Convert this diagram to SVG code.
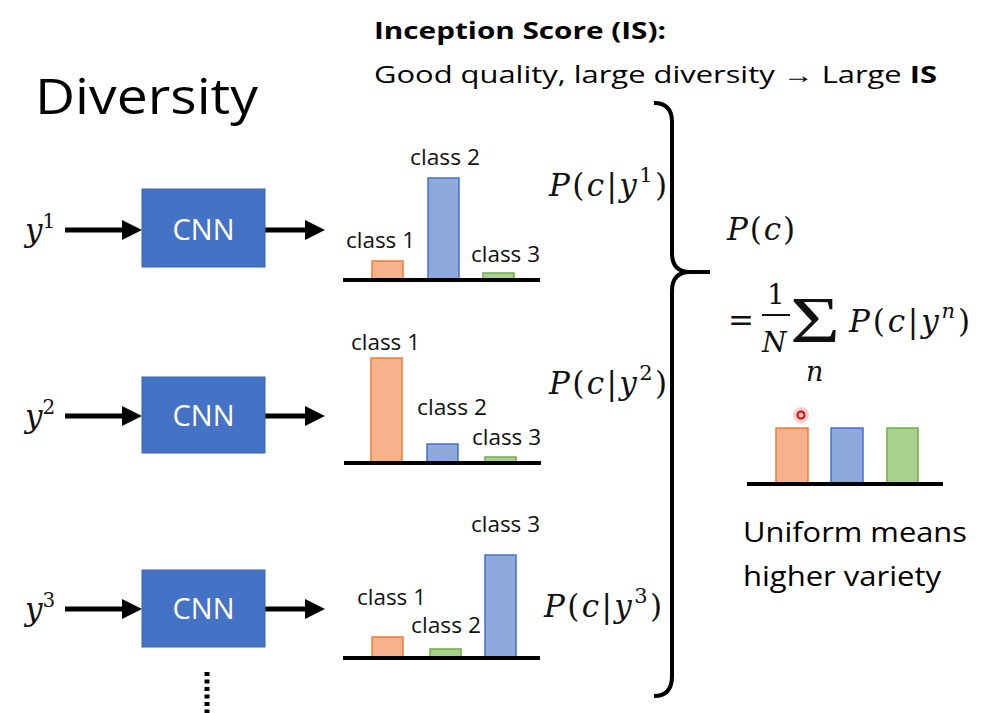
<svg xmlns="http://www.w3.org/2000/svg" width="989" height="713" viewBox="0 0 989 713">
<defs>
<style>
.sans{font-family:"Open Sans","Noto Sans","Liberation Sans",sans-serif;fill:#000}
.lbl{font-family:"Open Sans","Noto Sans","Liberation Sans",sans-serif;font-size:21px;fill:#111}
.cnn{fill:#4472C4;stroke:#3A64AE;stroke-width:1}
.cnnt{font-family:"Open Sans","Noto Sans","Liberation Sans",sans-serif;font-size:29px;fill:#fff;text-anchor:middle}
.math{font-family:"DejaVu Serif","Liberation Serif",serif;fill:#111}
.m31{font-size:31px}
.m28{font-size:28px}
.it{font-style:italic}
.base{stroke:#000;stroke-width:4}
.o{fill:#F6B28D;stroke:#ED7D31;stroke-width:1.5}
.b{fill:#8EA9DB;stroke:#4472C4;stroke-width:1.5}
.g{fill:#A9D18E;stroke:#70AD47;stroke-width:1.5}
.arr{stroke:#000;stroke-width:5;fill:none}
</style>
<marker id="ah" markerWidth="4" markerHeight="4" refX="0" refY="2" orient="auto" markerUnits="strokeWidth" viewBox="0 0 4 4">
<path d="M0,0 L4,2 L0,4 Z" fill="#000"/>
</marker>
</defs>
<rect width="989" height="713" fill="#fff"/>

<text class="sans" x="35" y="114" font-size="50" textLength="223" lengthAdjust="spacingAndGlyphs">Diversity</text>
<text class="sans" x="374" y="39" font-size="24" font-weight="bold" textLength="292" lengthAdjust="spacingAndGlyphs">Inception Score (IS):</text>
<text class="sans" x="374" y="83" font-size="24" textLength="563" lengthAdjust="spacingAndGlyphs">Good quality, large diversity → Large <tspan font-weight="bold">IS</tspan></text>

<g id="connectors">
<line class="arr" x1="65" y1="230" x2="122" y2="230" marker-end="url(#ah)"/>
<line class="arr" x1="265" y1="230" x2="305" y2="230" marker-end="url(#ah)"/>
<line class="arr" x1="65" y1="416" x2="122" y2="416" marker-end="url(#ah)"/>
<line class="arr" x1="265" y1="416" x2="305" y2="416" marker-end="url(#ah)"/>
<line class="arr" x1="65" y1="609" x2="122" y2="609" marker-end="url(#ah)"/>
<line class="arr" x1="265" y1="609" x2="305" y2="609" marker-end="url(#ah)"/>
<line x1="207" y1="672" x2="207" y2="713" stroke="#000" stroke-width="5" stroke-dasharray="4,3.5"/>
</g>

<g id="y1"><text class="math m31" x="25" y="241"><tspan class="it">y</tspan><tspan dy="-13" font-size="20">1</tspan></text></g>
<g id="y2"><text class="math m31" x="25" y="427"><tspan class="it">y</tspan><tspan dy="-13" font-size="20">2</tspan></text></g>
<g id="y3"><text class="math m31" x="25" y="620"><tspan class="it">y</tspan><tspan dy="-13" font-size="20">3</tspan></text></g>

<g id="cnn1"><rect class="cnn" x="142" y="189" width="123" height="78"/><text class="cnnt" x="203.5" y="240">CNN</text></g>
<g id="cnn2"><rect class="cnn" x="142" y="377" width="123" height="76"/><text class="cnnt" x="203.5" y="426">CNN</text></g>
<g id="cnn3"><rect class="cnn" x="142" y="570" width="123" height="77"/><text class="cnnt" x="203.5" y="619">CNN</text></g>

<g id="chart1">
<rect class="o" x="372" y="261" width="31" height="19"/>
<rect class="b" x="428" y="178" width="31" height="102"/>
<rect class="g" x="483" y="273" width="31" height="7"/>
<line class="base" x1="343" y1="280" x2="540" y2="280"/>
<text class="lbl" x="346" y="248" textLength="69" lengthAdjust="spacingAndGlyphs">class 1</text>
<text class="lbl" x="410" y="165" textLength="70" lengthAdjust="spacingAndGlyphs">class 2</text>
<text class="lbl" x="471" y="262" textLength="69" lengthAdjust="spacingAndGlyphs">class 3</text>
</g>
<g id="chart2">
<rect class="o" x="371" y="358" width="31" height="105"/>
<rect class="b" x="427" y="444" width="31" height="19"/>
<rect class="g" x="485" y="457" width="31" height="6"/>
<line class="base" x1="344" y1="463" x2="541" y2="463"/>
<text class="lbl" x="351" y="350" textLength="69" lengthAdjust="spacingAndGlyphs">class 1</text>
<text class="lbl" x="417" y="415" textLength="70" lengthAdjust="spacingAndGlyphs">class 2</text>
<text class="lbl" x="472" y="445" textLength="69" lengthAdjust="spacingAndGlyphs">class 3</text>
</g>
<g id="chart3">
<rect class="o" x="372" y="637" width="31" height="21"/>
<rect class="g" x="430" y="649" width="31" height="9"/>
<rect class="b" x="485" y="555" width="31" height="103"/>
<line class="base" x1="343" y1="658" x2="540" y2="658"/>
<text class="lbl" x="357" y="605" textLength="69" lengthAdjust="spacingAndGlyphs">class 1</text>
<text class="lbl" x="411" y="633" textLength="70" lengthAdjust="spacingAndGlyphs">class 2</text>
<text class="lbl" x="471" y="532" textLength="69" lengthAdjust="spacingAndGlyphs">class 3</text>
</g>

<g id="p1"><text class="math m31" x="549" y="196" textLength="118" lengthAdjust="spacing"><tspan class="it">P</tspan>(<tspan class="it">c</tspan>|<tspan class="it">y</tspan><tspan dy="-14" font-size="21">1</tspan><tspan dy="14">)</tspan></text></g>
<g id="p2"><text class="math m31" x="549" y="394" textLength="118" lengthAdjust="spacing"><tspan class="it">P</tspan>(<tspan class="it">c</tspan>|<tspan class="it">y</tspan><tspan dy="-14" font-size="21">2</tspan><tspan dy="14">)</tspan></text></g>
<g id="p3"><text class="math m31" x="544" y="617" textLength="118" lengthAdjust="spacing"><tspan class="it">P</tspan>(<tspan class="it">c</tspan>|<tspan class="it">y</tspan><tspan dy="-14" font-size="21">3</tspan><tspan dy="14">)</tspan></text></g>

<g id="brace">
<path d="M654,103 Q672,103 672,122 L672,253 Q672,272 690,272 L710,272 M690,272 Q672,272 672,291 L672,676 Q672,696 654,696" fill="none" stroke="#000" stroke-width="4"/>
</g>

<g id="formula">
<text class="math m31" x="727" y="240" textLength="68" lengthAdjust="spacing"><tspan class="it">P</tspan>(<tspan class="it">c</tspan>)</text>
<text class="math m31" x="728" y="331">=</text>
<text class="math m28" x="767" y="304">1</text>
<line x1="762" y1="315" x2="790" y2="315" stroke="#111" stroke-width="2"/>
<text class="math m28 it" x="762" y="352">N</text>
<text x="790" y="342" style="font-family:'Liberation Serif',serif;font-size:66px;fill:#111" textLength="50" lengthAdjust="spacingAndGlyphs">Σ</text>
<text class="math it" x="806" y="381" style="font-size:27px">n</text>
<text class="math m31" x="849" y="332" textLength="121" lengthAdjust="spacing"><tspan class="it">P</tspan>(<tspan class="it">c</tspan>|<tspan class="it">y</tspan><tspan class="it" dy="-14" font-size="21">n</tspan><tspan dy="14">)</tspan></text>
</g>

<g id="uniform">
<rect class="o" x="776" y="428" width="32" height="56"/>
<rect class="b" x="831" y="428" width="32" height="56"/>
<rect class="g" x="887" y="428" width="31" height="56"/>
<line class="base" x1="747" y1="484" x2="943" y2="484"/>
<circle cx="801" cy="415" r="8" fill="#ff3b3b" opacity="0.25"/>
<circle cx="801" cy="415" r="3.5" fill="none" stroke="#e00" stroke-width="2"/>
<text class="sans" x="743" y="542" font-size="27" textLength="224" lengthAdjust="spacingAndGlyphs">Uniform means</text>
<text class="sans" x="743" y="586" font-size="27" textLength="198" lengthAdjust="spacingAndGlyphs">higher variety</text>
</g>
</svg>
